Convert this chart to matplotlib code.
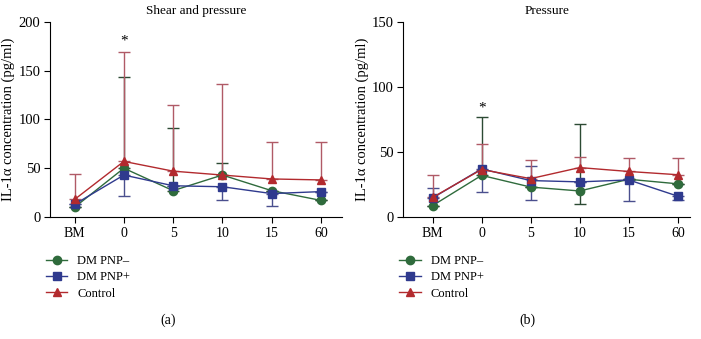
import numpy as np
import matplotlib.pyplot as plt

plt.rcParams['font.family'] = ['Liberation Serif', 'DejaVu Serif']

# ---- data ----
timepoints = ["BM", "0", "5", "10", "15", "60"]
series_names = ["DM PNP\u2013", "DM PNP+", "Control"]

# (a) Shear and pressure
a_pnp_neg = [10, 50, 27, 43, 27, 17]
a_pnp_pos = [13, 43, 32, 31, 24, 26]
a_control = [18, 57, 47, 43, 39, 38]
a_neg_up = [0, 94, 64, 12, 0, 0]
a_pos_lo = [0, 21, 0, 14, 13, 0]
a_ctrl_up = [26, 112, 68, 93, 38, 39]

# (b) Pressure
b_pnp_neg = [8.7, 32, 23, 20, 29, 25.5]
b_pnp_pos = [14.6, 37, 28, 27, 28.5, 16]
b_control = [15, 36.5, 29.5, 38, 35, 32.5]
b_neg_up = [0, 45, 0, 51.5, 0, 0]
b_neg_lo = [0, 0, 0, 10, 0, 0]
b_pos_up = [8, 0, 11, 0, 0, 0]
b_pos_lo = [0, 18, 15, 0, 16.5, 3]
b_ctrl_up = [17, 19.5, 14, 8, 10, 13]

green = "#2f6b3c"
blue = "#2f3a8e"
red = "#b22a2e"
red_err = "#b05a66"
green_err = "#2c4a33"
blue_err = "#4a4f8e"

fig = plt.figure(figsize=(7.01, 3.39), dpi=100)
ax1 = fig.add_axes([0.0713, 0.36, 0.4166, 0.575])
ax2 = fig.add_axes([0.575, 0.36, 0.4094, 0.575])

x = np.arange(len(timepoints))


def draw_panel(ax, neg, pos, ctrl, errs, ymax, step, title, star_y, xlim, letter, letx, legx):
    (neg_lo, neg_up), (pos_lo, pos_up), (ctrl_lo, ctrl_up) = errs
    # error bars first so markers sit on top
    ax.errorbar(x, neg, yerr=[neg_lo, neg_up], fmt="none", ecolor=green_err,
                elinewidth=1, capsize=4, capthick=1, zorder=2)
    ax.errorbar(x, pos, yerr=[pos_lo, pos_up], fmt="none", ecolor=blue_err,
                elinewidth=1, capsize=4, capthick=1, zorder=2)
    ax.errorbar(x, ctrl, yerr=[ctrl_lo, ctrl_up], fmt="none", ecolor=red_err,
                elinewidth=1, capsize=4, capthick=1, zorder=2)
    ax.plot(x, neg, "-o", color=green, ms=6, lw=1, label=series_names[0], zorder=3)
    ax.plot(x, pos, "-s", color=blue, ms=6, lw=1, label=series_names[1], zorder=3)
    ax.plot(x, ctrl, "-^", color=red, ms=6, lw=1, label=series_names[2], zorder=3)

    ax.text(1, star_y, "*", ha="center", va="center", fontsize=11)

    ax.set_ylim(0, ymax)
    ax.set_yticks(np.arange(0, ymax + 1, step))
    ax.set_xlim(*xlim)
    ax.set_xticks(x)
    ax.set_xticklabels(timepoints)
    ax.spines["top"].set_visible(False)
    ax.spines["right"].set_visible(False)
    ax.tick_params(axis="y", labelsize=10.5, length=4, width=0.8, pad=3)
    ax.tick_params(axis="x", labelsize=10, length=4, width=0.8)
    ax.set_ylabel("IL-1\u03b1 concentration (pg/ml)", fontsize=10.5, labelpad=2)
    ax.set_title(title, fontsize=9.5, pad=6)
    ax.legend(loc="upper left", bbox_to_anchor=(legx, -0.17), frameon=False,
              fontsize=9, handlelength=1.7, handletextpad=0.8,
              labelspacing=0.35, borderaxespad=0)
    ax.text(letx, -0.53, letter, transform=ax.transAxes, ha="center",
            va="center", fontsize=10)


draw_panel(ax1, a_pnp_neg, a_pnp_pos, a_control,
           [([0] * 6, a_neg_up), (a_pos_lo, [0] * 6), ([0] * 6, a_ctrl_up)],
           200, 50, "Shear and pressure", 180, (-0.5, 5.43), "(a)", 0.404, -0.03)
draw_panel(ax2, b_pnp_neg, b_pnp_pos, b_control,
           [(b_neg_lo, b_neg_up), (b_pos_lo, b_pos_up), ([0] * 6, b_ctrl_up)],
           150, 50, "Pressure", 84, (-0.6, 5.25), "(b)", 0.432, -0.03)

fig.savefig("out.png", dpi=100)
